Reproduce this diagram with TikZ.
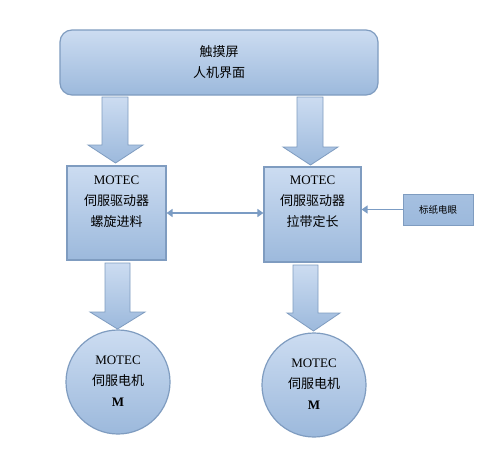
\documentclass[tikz,border=0pt]{standalone}
\usepackage{fontspec}
\setmainfont{Liberation Serif}
\newfontfamily\cjk{Noto Sans CJK SC}
\usetikzlibrary{calc,arrows.meta}
\definecolor{topc}{HTML}{CCDCF1}
\definecolor{botc}{HTML}{9CB9DC}
\definecolor{edgec}{HTML}{7F9CC0}
\definecolor{linec}{HTML}{7B9CC4}
\tikzset{
  blk/.style={draw=edgec, line width=1.2pt, top color=topc, bottom color=botc, align=center, inner sep=0pt},
  barrow/.style={draw=edgec, line width=0.8pt, top color=topc, bottom color=botc},
  thin/.style={draw=linec, line width=1.8pt, -{Triangle[length=6pt,width=8pt]}},
  txt/.style={font=\fontsize{13}{21}\selectfont, align=center}
}
\begin{document}
\begin{tikzpicture}[x=1pt,y=-1pt]
\useasboundingbox[fill=white] (0,0) rectangle (494,458);
% top box
\node[blk, rounded corners=12pt, minimum width=318pt, minimum height=65pt] (top) at (219,62.5) {};
\node[txt] (toptxt) at (top.center) {\cjk 触摸屏\\\cjk 人机界面};
% drivers
\node[blk, minimum width=99pt, minimum height=94pt] (d1) at (116.5,213) {};
\node[blk, minimum width=97pt, minimum height=95pt] (d2) at (312.5,214.5) {};
\node[txt, anchor=north] (d1t) at (116.5,172) {MOTEC\\{\cjk 伺服驱动器}\\{\cjk 螺旋进料}};
\node[txt, anchor=north] (d2t) at (312.5,172) {MOTEC\\{\cjk 伺服驱动器}\\{\cjk 拉带定长}};
% sensor
\node[blk, minimum width=70pt, minimum height=31pt, top color=botc!80!topc, bottom color=botc, line width=1pt] (s) at (438,209.5) {\fontsize{9.5}{11}\selectfont\cjk 标纸电眼};
% motors
\node[blk, circle, minimum size=104pt] (m1) at (118,382) {};
\node[blk, circle, minimum size=104pt] (m2) at (314,385) {};
\node[txt, anchor=north] (m1t) at (118,352) {MOTEC\\{\cjk 伺服电机}\\\textbf{M}};
\node[txt, anchor=north] (m2t) at (314,355) {MOTEC\\{\cjk 伺服电机}\\\textbf{M}};
% thin connectors
\draw[thin, {Triangle[length=6pt,width=8pt]}-{Triangle[length=6pt,width=8pt]}] (d1.east |- 0,213) -- (d2.west |- 0,213);
\draw[thin] (s.west) -- (d2.east |- s.west);
% block arrows
\newcommand{\blockarr}[8]{% x1 x2 (shaft) hx1 hx2 (head) ytop yhead ytip xtip
  \draw[barrow] (#1,#5) -- (#2,#5) -- (#2,#6) -- (#4,#6) -- (#8,#7) -- (#3,#6) -- (#1,#6) -- cycle;}
\blockarr{102}{128}{88}{143}{97}{145}{163}{115.5}
\blockarr{297}{323}{283}{338}{97}{147}{165}{310.5}
\blockarr{105}{130}{90}{145}{263}{312}{329}{117.5}
\blockarr{293}{318}{287}{340}{265}{313}{331}{313.5}
\end{tikzpicture}
\end{document}
